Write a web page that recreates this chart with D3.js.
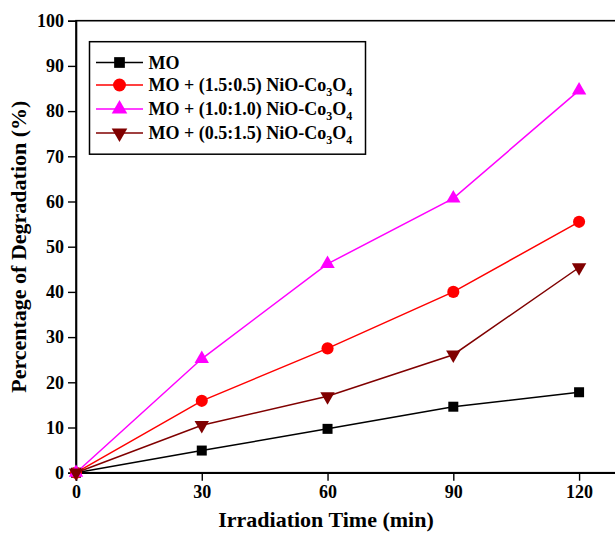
<!DOCTYPE html>
<html>
<head>
<meta charset="utf-8">
<script src="https://cdn.jsdelivr.net/npm/d3@7"></script>
<style>
  html, body { margin: 0; padding: 0; background: #fff; }
  svg { display: block; }
  text { font-family: "Liberation Serif", "Times New Roman", serif; font-weight: bold; }
</style>
</head>
<body>
<svg id="chart" width="615" height="534"></svg>
<script>
// Irradiation time (min)
const times = [0, 30, 60, 90, 120];
// Degradation (%) for each sample
const moValues = [0, 4.9, 9.7, 14.6, 17.8];
const ratio1505Values = [0, 15.9, 27.5, 40.0, 55.5];
const ratio1010Values = [0, 25.2, 46.2, 60.7, 84.6];
const ratio0515Values = [0, 10.5, 16.9, 26.1, 45.4];
const seriesNames = ["MO", "MO + (1.5:0.5) NiO-Co", "MO + (1.0:1.0) NiO-Co", "MO + (0.5:1.5) NiO-Co"];
const xTicks = [0, 30, 60, 90, 120];
const yTicks = [0, 10, 20, 30, 40, 50, 60, 70, 80, 90, 100];

const series = [
  { name: seriesNames[0], values: moValues, color: "#000000", symbol: d3.symbolSquare, size: 100, rot: 0, sub: false },
  { name: seriesNames[1], values: ratio1505Values, color: "#ff0000", symbol: d3.symbolCircle, size: 115, rot: 0, sub: true },
  { name: seriesNames[2], values: ratio1010Values, color: "#ff00ff", symbol: d3.symbolTriangle, size: 90, rot: 0, sub: true },
  { name: seriesNames[3], values: ratio0515Values, color: "#800000", symbol: d3.symbolTriangle, size: 90, rot: 180, sub: true }
];

const svg = d3.select("#chart");
const plotLeft = 76, plotTop = 20.7, plotBottom = 472.7;

const x = d3.scaleLinear().domain([0, 130]).range([plotLeft, 621]);
const y = d3.scaleLinear().domain([0, 100]).range([plotBottom, plotTop]);

// frame
svg.append("rect")
  .attr("x", plotLeft).attr("y", plotTop)
  .attr("width", 621 - plotLeft).attr("height", plotBottom - plotTop)
  .attr("fill", "none").attr("stroke", "#000").attr("stroke-width", 1.6);

// axes
const xAxis = svg.append("g")
  .attr("transform", `translate(0,${plotBottom})`)
  .call(d3.axisBottom(x).tickValues(xTicks).tickSize(8).tickPadding(5).tickFormat(d3.format("d")));
const yAxis = svg.append("g")
  .attr("transform", `translate(${plotLeft},0)`)
  .call(d3.axisLeft(y).tickValues(yTicks).tickSize(8).tickPadding(4).tickFormat(d3.format("d")));
[xAxis, yAxis].forEach(g => {
  g.select(".domain").attr("stroke-width", 1.6);
  g.selectAll(".tick line").attr("stroke-width", 1.4);
  g.selectAll(".tick text")
    .attr("font-family", "Liberation Serif, Times New Roman, serif")
    .attr("font-weight", "bold")
    .attr("font-size", 18)
    .attr("fill", "#000");
});

// axis titles
svg.append("text")
  .attr("x", 326).attr("y", 527)
  .attr("text-anchor", "middle")
  .attr("font-size", 22)
  .text("Irradiation Time (min)");
svg.append("text")
  .attr("transform", `translate(26,${(plotTop + plotBottom) / 2}) rotate(-90)`)
  .attr("text-anchor", "middle")
  .attr("font-size", 22)
  .text("Percentage of Degradation (%)");

// series lines and markers
const line = d3.line().x((d, i) => x(times[i])).y(d => y(d));
series.forEach(s => {
  svg.append("path")
    .datum(s.values)
    .attr("d", line)
    .attr("fill", "none")
    .attr("stroke", s.color)
    .attr("stroke-width", 1.5);
});
series.forEach(s => {
  svg.append("g").selectAll("path")
    .data(s.values)
    .join("path")
    .attr("d", d3.symbol().type(s.symbol).size(s.size))
    .attr("transform", (d, i) => `translate(${x(times[i])},${y(d)}) rotate(${s.rot})`)
    .attr("fill", s.color);
});

// legend
const legend = svg.append("g");
legend.append("rect")
  .attr("x", 89.5).attr("y", 41.7)
  .attr("width", 276).attr("height", 112.5)
  .attr("fill", "#fff").attr("stroke", "#000").attr("stroke-width", 1.5);
const rowY = [62.5, 85, 109, 133];
series.forEach((s, i) => {
  const g = legend.append("g").attr("transform", `translate(0,${rowY[i]})`);
  g.append("line").attr("x1", 96).attr("x2", 143).attr("y1", 0).attr("y2", 0)
    .attr("stroke", s.color).attr("stroke-width", 1.5);
  g.append("path")
    .attr("d", d3.symbol().type(s.symbol).size(s.size + 15)())
    .attr("transform", `translate(119.5,0) rotate(${s.rot})`)
    .attr("fill", s.color);
  const t = g.append("text").attr("x", 148.5).attr("y", 6).attr("font-size", 18);
  t.append("tspan").text(s.name);
  if (s.sub) {
    t.append("tspan").attr("font-size", 12).attr("dy", 5).text("3");
    t.append("tspan").attr("dy", -5).text("O");
    t.append("tspan").attr("font-size", 12).attr("dy", 5).text("4");
  }
});
</script>
</body>
</html>
